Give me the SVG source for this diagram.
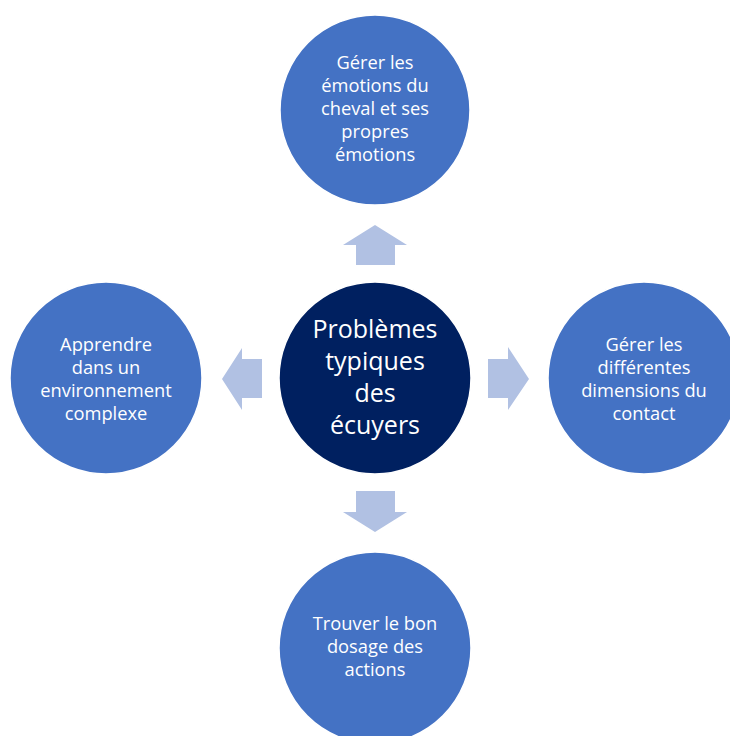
<svg xmlns="http://www.w3.org/2000/svg" width="730" height="736" viewBox="0 0 730 736">
<style>
.n{fill:#4472C4;stroke:#ffffff;stroke-width:1.5}
.c{fill:#002060;stroke:#ffffff;stroke-width:1.5}
.a{fill:#B1C1E3}
text{font-family:"Open Sans","Liberation Sans",sans-serif;fill:#ffffff;text-anchor:middle}
.t{font-size:18.3px}
.tc{font-size:25px}
</style>
<rect width="730" height="736" fill="#ffffff"/>
<g id="connectors">
<polygon class="a" points="356,265 356,245 343,245 375,225 407,245 395,245 395,265"/>
<polygon class="a" points="262,359 242,359 242,348 222,379 242,410 242,398 262,398"/>
<polygon class="a" points="488,359 508,359 508,347 529,379 508,410 508,398 488,398"/>
<polygon class="a" points="356,491 356,512 343,512 375,532 407,512 395,512 395,491"/>
</g>
<g id="center">
<circle class="c" cx="375" cy="378" r="96"/>
<text class="tc" x="375" y="338">Problèmes</text>
<text class="tc" x="375" y="370">typiques</text>
<text class="tc" x="375" y="402">des</text>
<text class="tc" x="375" y="434">écuyers</text>
</g>
<g id="top">
<circle class="n" cx="375" cy="110" r="95"/>
<text class="t" x="375" y="69">Gérer les</text>
<text class="t" x="375" y="92">émotions du</text>
<text class="t" x="375" y="115">cheval et ses</text>
<text class="t" x="375" y="138">propres</text>
<text class="t" x="375" y="161">émotions</text>
</g>
<g id="left">
<circle class="n" cx="106" cy="378" r="96"/>
<text class="t" x="106" y="351">Apprendre</text>
<text class="t" x="106" y="374">dans un</text>
<text class="t" x="106" y="397">environnement</text>
<text class="t" x="106" y="420">complexe</text>
</g>
<g id="right">
<circle class="n" cx="644" cy="378" r="96"/>
<text class="t" x="644" y="351">Gérer les</text>
<text class="t" x="644" y="374">différentes</text>
<text class="t" x="644" y="397">dimensions du</text>
<text class="t" x="644" y="420">contact</text>
</g>
<g id="bottom">
<circle class="n" cx="375" cy="648" r="96"/>
<text class="t" x="375" y="630">Trouver le bon</text>
<text class="t" x="375" y="653">dosage des</text>
<text class="t" x="375" y="676">actions</text>
</g>
</svg>
